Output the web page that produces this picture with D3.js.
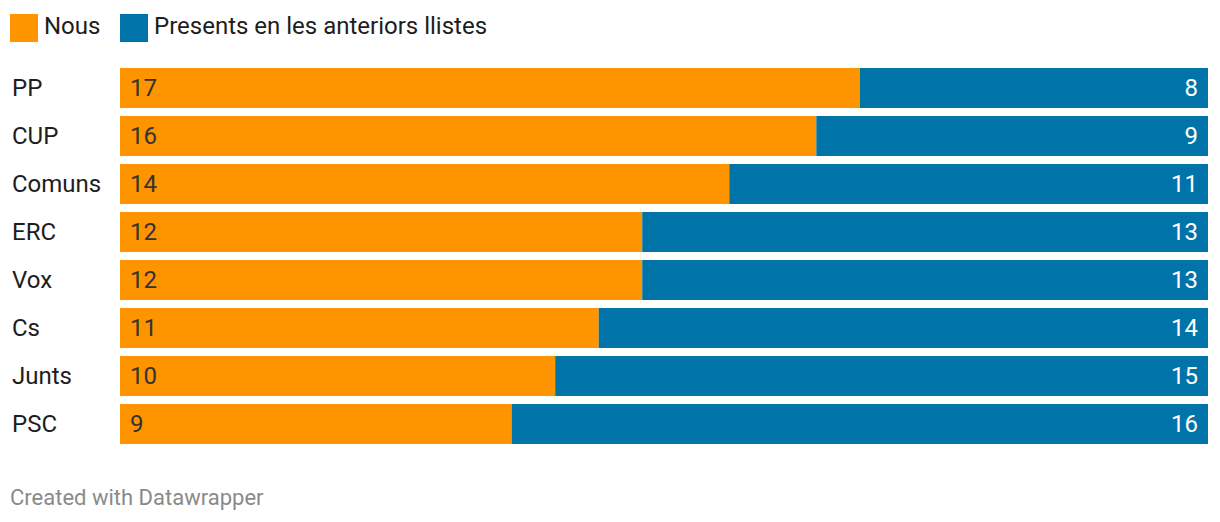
<!DOCTYPE html>
<html>
<head>
<meta charset="utf-8">
<script src="https://cdn.jsdelivr.net/npm/d3@7"></script>
<style>
  html, body { margin: 0; padding: 0; background: #fff; }
  svg { display: block; font-family: Roboto, sans-serif; }
</style>
</head>
<body>
<svg id="chart" width="1220" height="522"></svg>
<script>
const parties = ["PP", "CUP", "Comuns", "ERC", "Vox", "Cs", "Junts", "PSC"];
const nous = [17, 16, 14, 12, 12, 11, 10, 9];
const presents = [8, 9, 11, 13, 13, 14, 15, 16];
const seriesNames = ["Nous", "Presents en les anteriors llistes"];
const seriesColors = ["#fd9400", "#0074a8"];
const footerText = "Created with Datawrapper";

const svg = d3.select("#chart");

const x = d3.scaleLinear().domain([0, 25]).range([120, 1208]);
const y = d3.scaleBand().domain(parties)
  .range([68, 68 + 48 * 8 - 8])
  .paddingInner(8 / 48).paddingOuter(0);

// Legend
const legend = svg.append("g");
const legendX = [10, 120];
seriesNames.forEach((name, i) => {
  legend.append("rect").attr("x", legendX[i]).attr("y", 14).attr("width", 28).attr("height", 28).attr("fill", seriesColors[i]);
  legend.append("text").attr("x", legendX[i] + 34).attr("y", 34).attr("font-size", 24).attr("fill", "#1d1d1d").text(name);
});

const rows = parties.map((p, i) => ({ party: p, a: nous[i], b: presents[i] }));

const g = svg.append("g");
const row = g.selectAll("g.row").data(rows).join("g").attr("class", "row");

row.append("text")
  .attr("x", 12)
  .attr("y", d => y(d.party) + y.bandwidth() / 2)
  .attr("dy", "0.35em")
  .attr("font-size", 24)
  .attr("fill", "#1d1d1d")
  .text(d => d.party);

row.append("rect")
  .attr("x", x(0))
  .attr("y", d => y(d.party))
  .attr("width", d => x(d.a) - x(0))
  .attr("height", y.bandwidth())
  .attr("fill", seriesColors[0]);

row.append("rect")
  .attr("x", d => x(d.a))
  .attr("y", d => y(d.party))
  .attr("width", d => x(d.a + d.b) - x(d.a))
  .attr("height", y.bandwidth())
  .attr("fill", seriesColors[1]);

row.append("text")
  .attr("x", x(0) + 10)
  .attr("y", d => y(d.party) + y.bandwidth() / 2)
  .attr("dy", "0.35em")
  .attr("font-size", 24)
  .attr("fill", "#333333")
  .text(d => d.a);

row.append("text")
  .attr("x", d => x(d.a + d.b) - 10)
  .attr("y", d => y(d.party) + y.bandwidth() / 2)
  .attr("dy", "0.35em")
  .attr("text-anchor", "end")
  .attr("font-size", 24)
  .attr("fill", "#ffffff")
  .text(d => d.b);

svg.append("text")
  .attr("x", 10)
  .attr("y", 505)
  .attr("font-size", 22)
  .attr("fill", "#8a8a8a")
  .text(footerText);
</script>
</body>
</html>
